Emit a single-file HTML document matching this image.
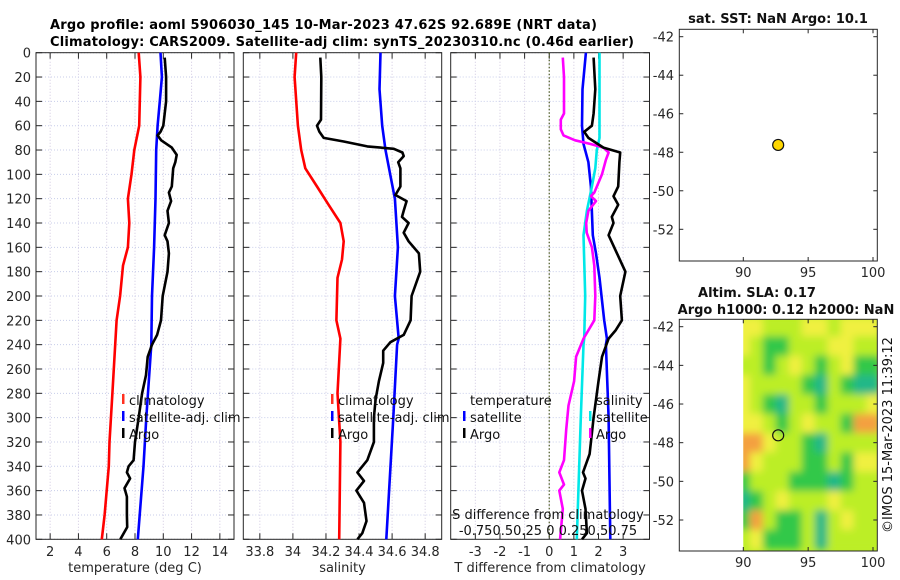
<!DOCTYPE html>
<html><head><meta charset="utf-8">
<style>
html,body{margin:0;padding:0;background:#fff;}
svg{display:block;font-family:"DejaVu Sans","Liberation Sans",sans-serif;}
</style></head>
<body>
<svg id="fig" width="900" height="580" viewBox="0 0 900 580" xmlns="http://www.w3.org/2000/svg">
<defs>
<filter id="blur" x="-10%" y="-10%" width="120%" height="120%"><feGaussianBlur stdDeviation="4"/></filter>
<clipPath id="hmclip"><rect x="743.3" y="319.3" width="134" height="231.7"/></clipPath>
</defs>
<rect width="900" height="580" fill="#fff"/>
<text x="50" y="29" font-size="13" font-weight="bold" textLength="547">Argo profile: aoml 5906030_145 10-Mar-2023 47.62S 92.689E (NRT data)</text>
<text x="50" y="46" font-size="13" font-weight="bold" textLength="584">Climatology: CARS2009. Satellite-adj clim: synTS_20230310.nc (0.46d earlier)</text>
<g id="layer"></g>
</svg>
<script>
// ---------- data ----------
const tClimDepth=[0,20,60,80,100,120,140,160,175,200,220,240,280,320,340,360,380,400];
const tClimVal=[8.26,8.38,8.3,7.95,7.75,7.5,7.6,7.5,7.15,6.95,6.7,6.6,6.4,6.2,6.15,6.0,5.85,5.65];
const tSatDepth=[0,20,40,60,80,120,160,200,240,300,340,400];
const tSatVal=[9.8,9.9,9.75,9.6,9.5,9.45,9.35,9.2,9.15,8.8,8.6,8.2];
const tArgoDepth=[4,20,40,50,60,65,68,72,78,84,90,95,110,115,122,130,140,150,155,165,180,200,220,232,240,250,265,280,300,320,335,340,345,350,358,365,380,390,400];
const tArgoVal=[10.1,10.2,10.2,10.1,10.0,9.8,9.6,9.85,10.6,10.95,10.85,10.7,10.6,10.4,10.55,10.3,10.4,10.1,10.3,10.4,10.3,9.96,9.84,9.56,9.2,8.9,8.78,8.5,8.26,8.0,7.9,7.55,7.43,7.65,7.26,7.43,7.43,7.45,6.96];
const sClimDepth=[0,20,60,80,95,110,125,140,155,170,185,220,235,280,320,400];
const sClimVal=[34.02,34.01,34.03,34.05,34.075,34.146,34.216,34.287,34.307,34.297,34.27,34.263,34.287,34.27,34.287,34.28];
const sSatDepth=[0,30,60,80,120,160,200,235,240,300,400];
const sSatVal=[34.53,34.524,34.54,34.56,34.617,34.635,34.617,34.64,34.63,34.607,34.565];
const sArgoDepth=[4,20,55,60,65,70,73,77,79,82,85,90,95,110,117,122,130,135,140,148,155,165,180,200,220,232,238,245,255,270,285,300,320,335,345,352,360,370,385,395,400];
const sArgoVal=[34.166,34.172,34.17,34.146,34.16,34.186,34.307,34.45,34.61,34.662,34.67,34.637,34.65,34.65,34.62,34.688,34.67,34.66,34.7,34.67,34.7,34.762,34.77,34.718,34.712,34.67,34.59,34.546,34.546,34.52,34.5,34.49,34.49,34.45,34.39,34.43,34.384,34.43,34.445,34.42,34.39];
const dSatTDepth=[0,30,60,75,90,110,150,165,185,220,235,240,300,400];
const dSatTVal=[1.49,1.35,1.33,1.39,1.59,1.69,1.77,1.9,2.04,2.23,2.34,2.3,2.41,2.48];
const dSatSDepth=[0,70,80,95,110,130,150,200,235,240,300,400];
const dSatSVal=[2.04,2.04,1.93,1.87,1.73,1.53,1.39,1.46,1.42,1.39,1.28,1.12];
const dArgoSDepth=[4,20,50,55,63,68,72,75,78,82,88,100,115,118,122,130,140,148,160,175,200,220,235,250,270,290,310,335,345,355,360,375,400];
const dArgoSVal=[0.55,0.6,0.6,0.47,0.47,0.58,1.05,1.66,2.2,2.41,2.3,2.14,1.83,1.69,1.9,1.59,1.5,1.52,1.73,1.83,1.87,1.83,1.39,1.09,1.01,0.78,0.69,0.6,0.41,0.6,0.41,0.55,0.44];
const dArgoTDepth=[4,30,50,60,65,70,78,82,90,110,118,125,135,140,150,165,180,200,220,228,235,250,270,300,330,345,350,360,375,395,400];
const dArgoTVal=[1.8,1.87,1.8,1.73,1.42,1.59,2.2,2.88,2.85,2.8,2.61,2.8,2.54,2.61,2.41,2.75,3.09,2.88,2.95,2.7,2.41,2.14,2.0,1.8,1.64,1.37,1.47,1.33,1.47,1.53,1.33];
const depthTicks=[0,20,40,60,80,100,120,140,160,180,200,220,240,260,280,300,320,340,360,380,400];
const tTicks=[2,4,6,8,10,12,14];
const sTicks=[33.8,34,34.2,34.4,34.6,34.8];
const sTickLabels=["33.8","34","34.2","34.4","34.6","34.8"];
const dTicks=[-3,-2,-1,0,1,2,3];
const lonTicks=[90,95,100];
const latTicks=[-42,-44,-46,-48,-50,-52];
const argoLon=92.689, argoLat=-47.62;
const slaLons=[90,91,92,93,94,95,96,97,98,99,100];
const slaLats=[-42,-43,-44,-45,-46,-47,-48,-49,-50,-51,-52,-53];
const slaGrid=[
[3,3,2,2,2,3,3,2,3,3,3],
[3,2,1,1,2,2,2,3,3,2,2],
[2,2,1,2,3,2,1,2,3,1,1],
[3,2,2,2,2,1,0,2,1,0,0],
[3,2,1,0,2,2,1,2,2,2,3],
[3,3,2,1,2,3,2,2,1,4,4],
[4,4,3,2,2,1,0,2,2,2,2],
[4,3,2,2,2,1,1,2,1,3,3],
[1,2,2,2,1,1,1,0,1,2,2],
[0,1,2,3,2,2,2,3,2,2,2],
[1,4,2,1,1,2,0,2,3,2,2],
[2,3,1,1,1,2,0,2,2,2,2]];
const slaColors=["#20b888","#30c848","#bcee28","#f0f040","#f4a040"];

// ---------- drawing ----------
const NS="http://www.w3.org/2000/svg";
const L=document.getElementById('layer');
function el(tag,attrs,parent){const e=document.createElementNS(NS,tag);for(const k in attrs)e.setAttribute(k,attrs[k]);(parent||L).appendChild(e);return e;}
function txt(x,y,s,attrs,parent){const t=el('text',Object.assign({x:x,y:y,'font-size':13,fill:'#262626'},attrs||{}),parent);t.textContent=s;return t;}

const Y0=52.7,Y1=539.3;
const yD=d=>Y0+(d/400)*(Y1-Y0);
function lin(d0,d1,r0,r1){return v=>r0+(v-d0)/(d1-d0)*(r1-r0);}

function panel(name,x0,x1,dom,ticks,labels,xtitle,showY){
  const g=el('g',{});
  
  
  const fx=lin(dom[0],dom[1],x0,x1);
  ticks.forEach(t=>{el('line',{x1:fx(t),x2:fx(t),y1:Y0,y2:Y1,stroke:'#d0c8e0','stroke-dasharray':'1,2','stroke-width':1},g);});
  depthTicks.forEach(d=>{el('line',{x1:x0,x2:x1,y1:yD(d),y2:yD(d),stroke:'#c8cdea','stroke-dasharray':'1,2','stroke-width':1},g);});
  depthTicks.forEach(d=>{el('line',{x1:x0,x2:x0+6,y1:yD(d),y2:yD(d),stroke:'#262626'},g);el('line',{x1:x1-6,x2:x1,y1:yD(d),y2:yD(d),stroke:'#262626'},g);
    if(showY){const t=txt(31,yD(d)+5,String(d),{'text-anchor':'end'},g);}});
  ticks.forEach((t,i)=>{el('line',{x1:fx(t),x2:fx(t),y1:Y1,y2:Y1-6,stroke:'#262626'},g);el('line',{x1:fx(t),x2:fx(t),y1:Y0,y2:Y0+6,stroke:'#262626'},g);
    const tl=txt(fx(t),556,labels[i],{'text-anchor':'middle'},g);});
  el('rect',{x:x0,y:Y0,width:x1-x0,height:Y1-Y0,fill:'none',stroke:'#262626','stroke-width':1},g);
  const xt=txt((x0+x1)/2,572,xtitle,{'text-anchor':'middle'},g);
  
  
  return {g,fx};
}
function series(p,depths,vals,color,name){
  const pts=depths.map((d,i)=>p.fx(vals[i]).toFixed(1)+','+yD(d).toFixed(1)).join(' ');
  const pl=el('polyline',{points:pts,fill:'none',stroke:color,'stroke-width':2.6,'stroke-linejoin':'round'},p.g);
  
  
}
function legendEntry(g,mx,y,color,label,name){
  const e=el('g',{},g);
  
  
  if(color) el('rect',{x:mx,y:y-11,width:2.5,height:10,fill:color},e);
  txt(mx+(color?7:0),y,label,{fill:'#111'},e);
}

const p1=panel('temperature-panel',36,234,[1,15],tTicks,tTicks.map(String),'temperature (deg C)',true);
series(p1,tClimDepth,tClimVal,'#ff0000','temp-climatology-line');
series(p1,tSatDepth,tSatVal,'#0000ff','temp-satellite-line');
series(p1,tArgoDepth,tArgoVal,'#000','temp-argo-line');
legendEntry(p1.g,122,405,'#ff3020','climatology','legend-climatology');
legendEntry(p1.g,122,422,'#0000ff','satellite-adj. clim','legend-satellite-adj');
legendEntry(p1.g,122,439,'#000','Argo','legend-argo');

const p2=panel('salinity-panel',243.3,441.7,[33.7,34.9],sTicks,sTickLabels,'salinity',false);
series(p2,sClimDepth,sClimVal,'#ff0000','sal-climatology-line');
series(p2,sSatDepth,sSatVal,'#0000ff','sal-satellite-line');
series(p2,sArgoDepth,sArgoVal,'#000','sal-argo-line');
legendEntry(p2.g,331,405,'#ff3020','climatology','legend-climatology');
legendEntry(p2.g,331,422,'#0000ff','satellite-adj. clim','legend-satellite-adj');
legendEntry(p2.g,331,439,'#000','Argo','legend-argo');

const p3=panel('difference-panel',450.7,649.5,[-4,4.07],dTicks,dTicks.map(String),'T difference from climatology',false);
el('line',{x1:p3.fx(0),x2:p3.fx(0),y1:Y0,y2:Y1,stroke:'#4a5a20','stroke-dasharray':'1.5,2','stroke-width':1.2},p3.g);
series(p3,dSatTDepth,dSatTVal,'#0000ff','tdiff-satellite-line');
series(p3,dSatSDepth,dSatSVal,'#00e8e8','sdiff-satellite-line');
series(p3,dArgoSDepth,dArgoSVal,'#ff00ff','sdiff-argo-line');
series(p3,dArgoTDepth,dArgoTVal,'#000','tdiff-argo-line');
legendEntry(p3.g,470,405,null,'temperature','legend-temperature-header');
legendEntry(p3.g,463,422,'#0000ff','satellite','legend-t-satellite');
legendEntry(p3.g,463,439,'#000','Argo','legend-t-argo');
legendEntry(p3.g,596,405,null,'salinity','legend-salinity-header');
legendEntry(p3.g,589,422,'#00e8e8','satellite','legend-s-satellite');
legendEntry(p3.g,589,439,'#ff00ff','Argo','legend-s-argo');
const st=txt(548,519,'S difference from climatology',{'text-anchor':'middle','fill':'#111'},p3.g);


const sl=txt(548,535,'-0.750.50.25 0 0.250.50.75',{'text-anchor':'middle','fill':'#111'},p3.g);



function map(name,top,bottom,yAt42,yAt52){
  const g=el('g',{});
  
  
  const x0=679.3,x1=877.3;
  const fx=lin(90,100,743.3,873);
  const fy=lin(-42,-52,yAt42,yAt52);
  return {g,x0,x1,fx,fy,top,bottom,finish(){
    el('rect',{x:x0,y:top,width:x1-x0,height:bottom-top,fill:'none',stroke:'#262626'},g);
    latTicks.forEach(t=>{el('line',{x1:x0,x2:x0+4,y1:fy(t),y2:fy(t),stroke:'#262626'},g);el('line',{x1:x1-4,x2:x1,y1:fy(t),y2:fy(t),stroke:'#262626'},g);
      const tl=txt(674,fy(t)+5,String(t),{'text-anchor':'end'},g);});
    lonTicks.forEach(t=>{el('line',{x1:fx(t),x2:fx(t),y1:bottom,y2:bottom-4,stroke:'#262626'},g);el('line',{x1:fx(t),x2:fx(t),y1:top,y2:top+4,stroke:'#262626'},g);
      const tl=txt(fx(t),bottom+16,String(t),{'text-anchor':'middle'},g);});
  }};
}
const m1=map('sst-map',29.3,261,36.7,229.3);
const t1=txt(778,23,'sat. SST: NaN Argo: 10.1',{'text-anchor':'middle','font-weight':'bold','fill':'#111'},m1.g);


m1.finish();
const c1=el('circle',{cx:m1.fx(argoLon),cy:m1.fy(argoLat),r:5.5,fill:'#ffd700',stroke:'#111','stroke-width':1.2},m1.g);



const m2=map('sla-map',319.3,551,326.7,520);
const hmClip=el('g',{'clip-path':'url(#hmclip)'},m2.g);
el('rect',{x:743.3,y:319.3,width:134,height:231.7,fill:'#bcee28'},hmClip);
const hm=el('g',{filter:'url(#blur)'},hmClip);


slaLats.forEach((lat,r)=>{slaLons.forEach((lon,c)=>{
  const xa=m2.fx(lon-0.5),xb=m2.fx(lon+0.5),ya=m2.fy(lat+0.5),yb=m2.fy(lat-0.5);
  const cell=el('rect',{x:xa,y:ya,width:xb-xa+0.5,height:yb-ya+0.5,fill:slaColors[slaGrid[r][c]]},hm);
  
  
});});
const t2=txt(757,297,'Altim. SLA: 0.17',{'text-anchor':'middle','font-weight':'bold','fill':'#111'},m2.g);


const t3=txt(786,314,'Argo h1000: 0.12 h2000: NaN',{'text-anchor':'middle','font-weight':'bold','fill':'#111'},m2.g);


m2.finish();
const c2=el('circle',{cx:m2.fx(argoLon),cy:m2.fy(argoLat),r:5.5,fill:'none',stroke:'#111','stroke-width':1.2},m2.g);


const cr=txt(0,0,'©IMOS 15-Mar-2023 11:39:12',{'text-anchor':'middle','transform':'translate(892,435) rotate(-90)','fill':'#111'});


</script>
</body></html>
